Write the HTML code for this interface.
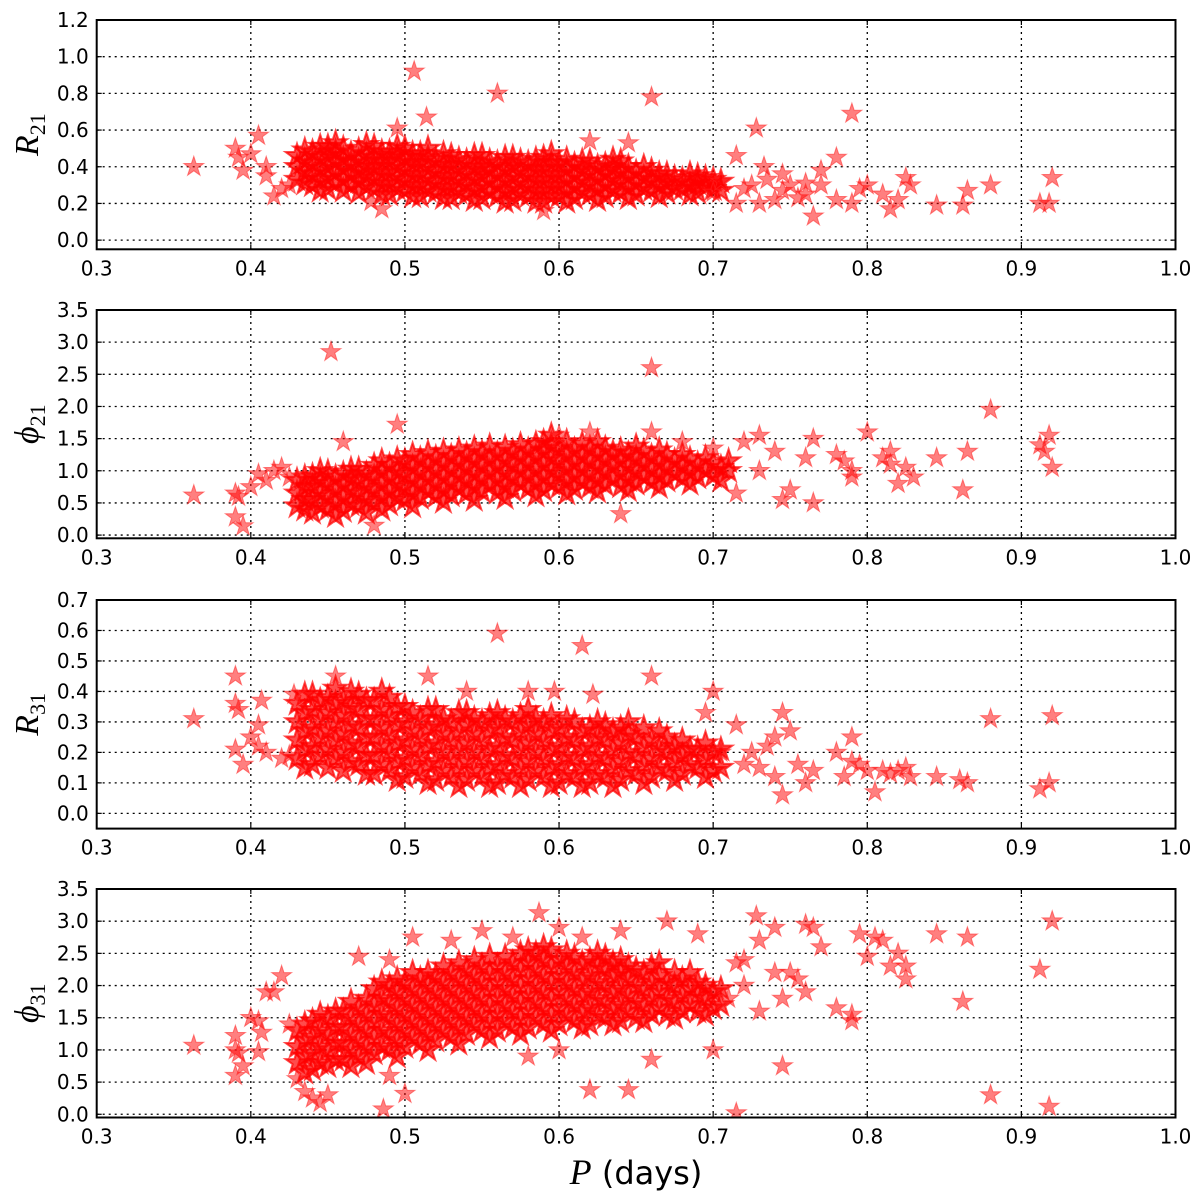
<!DOCTYPE html>
<html><head><meta charset="utf-8"><style>
html,body{margin:0;padding:0;background:#fff;}
svg{display:block;}
</style></head><body>
<svg id="chart" width="1200" height="1200" xmlns="http://www.w3.org/2000/svg"></svg>
<script>
// ---- data: x ticks ----
const xTicks = [0.3,0.4,0.5,0.6,0.7,0.8,0.9,1.0];
const xTickLabels = ["0.3","0.4","0.5","0.6","0.7","0.8","0.9","1.0"];
// ---- panel 1: R21 ----
const r21Ticks = [0.0,0.2,0.4,0.6,0.8,1.0,1.2];
const r21Core = [
[0.43,[0.33,0.40,0.46]],[0.44,[0.30,0.36,0.42,0.48]],[0.45,[0.28,0.34,0.40,0.46,0.51]],
[0.46,[0.27,0.33,0.39,0.44,0.50]],[0.47,[0.26,0.32,0.37,0.43,0.49]],[0.48,[0.28,0.34,0.40,0.45,0.51]],
[0.49,[0.25,0.31,0.37,0.43,0.48]],[0.50,[0.27,0.33,0.39,0.45,0.50]],[0.51,[0.24,0.30,0.36,0.42,0.47]],
[0.52,[0.26,0.32,0.38,0.44]],[0.53,[0.23,0.29,0.35,0.41,0.46]],[0.54,[0.25,0.31,0.37,0.43]],
[0.55,[0.23,0.29,0.35,0.40,0.46]],[0.56,[0.24,0.30,0.36,0.42]],[0.57,[0.22,0.28,0.34,0.40,0.45]],
[0.58,[0.24,0.30,0.36,0.42]],[0.59,[0.21,0.27,0.33,0.39,0.45]],[0.60,[0.24,0.30,0.36,0.42]],
[0.61,[0.23,0.29,0.35,0.41]],[0.62,[0.25,0.31,0.37,0.43]],[0.63,[0.24,0.30,0.36,0.41]],
[0.64,[0.26,0.32,0.38,0.43]],[0.65,[0.25,0.31,0.37]],[0.66,[0.27,0.33,0.38]],
[0.67,[0.26,0.31,0.36]],[0.68,[0.28,0.33]],[0.69,[0.26,0.31,0.35]],[0.70,[0.28,0.33]]];
const r21CoreB = [
[0.435,[0.31,0.37,0.43,0.49]],[0.445,[0.27,0.33,0.39,0.45,0.51]],[0.455,[0.31,0.37,0.43,0.48,0.53]],
[0.465,[0.30,0.36,0.42,0.47]],[0.475,[0.29,0.35,0.40,0.46,0.52]],[0.485,[0.25,0.31,0.37,0.43,0.48]],
[0.495,[0.28,0.34,0.40,0.46,0.51]],[0.505,[0.24,0.30,0.36,0.42,0.47]],[0.515,[0.27,0.33,0.39,0.45,0.50]],
[0.525,[0.23,0.29,0.35,0.41,0.47]],[0.535,[0.26,0.32,0.38,0.44]],[0.545,[0.22,0.28,0.34,0.40,0.46]],
[0.555,[0.26,0.32,0.38,0.43]],[0.565,[0.21,0.27,0.33,0.39,0.45]],[0.575,[0.25,0.31,0.37,0.43]],
[0.585,[0.21,0.27,0.33,0.39,0.44]],[0.595,[0.24,0.30,0.36,0.42,0.47]],[0.605,[0.21,0.27,0.33,0.39,0.44]],
[0.615,[0.26,0.32,0.38,0.43]],[0.625,[0.22,0.28,0.34,0.40]],[0.635,[0.27,0.33,0.39,0.44]],
[0.645,[0.23,0.29,0.35,0.40]],[0.655,[0.28,0.34,0.40]],[0.665,[0.24,0.30,0.36]],
[0.675,[0.28,0.34]],[0.685,[0.25,0.30,0.36]],[0.695,[0.29,0.34]],[0.705,[0.27,0.32]]];
const r21X = [0.363,0.39,0.392,0.395,0.40,0.405,0.41,0.415,0.42,0.425,0.41,0.506,0.56,0.66,0.514,0.495,0.728,0.79,0.485,0.478,0.59,0.62,0.645,0.715,0.733,0.745,0.78,0.77,0.765,0.745,0.76,0.75,0.73,0.715,0.74,0.755,0.79,0.80,0.795,0.81,0.815,0.82,0.825,0.828,0.845,0.862,0.865,0.88,0.912,0.918,0.92,0.72,0.70,0.705,0.725,0.735,0.76,0.77,0.78];
const r21Y = [0.40,0.50,0.45,0.38,0.47,0.57,0.40,0.24,0.28,0.30,0.35,0.92,0.80,0.78,0.67,0.61,0.61,0.69,0.17,0.21,0.16,0.54,0.53,0.46,0.40,0.36,0.45,0.38,0.13,0.27,0.31,0.30,0.20,0.20,0.22,0.23,0.20,0.30,0.28,0.25,0.17,0.22,0.34,0.30,0.19,0.19,0.27,0.30,0.20,0.20,0.34,0.28,0.26,0.32,0.30,0.33,0.25,0.30,0.22];
// ---- panel 2: phi21 ----
const p21Ticks = [0.0,0.5,1.0,1.5,2.0,2.5,3.0,3.5];
const p21Core = [
[0.43,[0.45,0.65,0.85]],[0.44,[0.35,0.55,0.75,0.92]],[0.45,[0.40,0.60,0.80,0.98]],
[0.46,[0.38,0.58,0.78,0.95]],[0.47,[0.45,0.65,0.85,1.02]],[0.48,[0.50,0.70,0.90,1.08]],
[0.49,[0.48,0.68,0.88,1.08]],[0.50,[0.55,0.75,0.95,1.15]],[0.51,[0.58,0.78,0.98,1.18]],
[0.52,[0.60,0.80,1.00,1.20]],[0.53,[0.62,0.82,1.02,1.22]],[0.54,[0.65,0.85,1.05,1.25]],
[0.55,[0.68,0.88,1.08,1.28]],[0.56,[0.66,0.86,1.06,1.26]],[0.57,[0.70,0.90,1.10,1.30]],
[0.58,[0.72,0.92,1.12,1.32]],[0.59,[0.70,0.90,1.10,1.30,1.45]],[0.60,[0.75,0.95,1.15,1.35]],
[0.61,[0.72,0.92,1.12,1.32]],[0.62,[0.75,0.95,1.15,1.35]],[0.63,[0.78,0.98,1.18,1.35]],
[0.64,[0.76,0.96,1.16,1.32]],[0.65,[0.80,1.00,1.20,1.38]],[0.66,[0.82,1.02,1.22]],
[0.67,[0.85,1.05,1.25]],[0.68,[0.88,1.08,1.25]],[0.69,[0.90,1.10]],[0.70,[0.92,1.12]],[0.71,[1.0,1.15]]];
const p21CoreB = [
[0.435,[0.40,0.55,0.75,0.90]],[0.445,[0.45,0.65,0.85,1.0]],[0.455,[0.30,0.50,0.70,0.90]],
[0.465,[0.48,0.68,0.88,1.02]],[0.475,[0.35,0.55,0.75,0.95]],[0.485,[0.40,0.60,0.80,1.00,1.15]],
[0.495,[0.58,0.78,0.98,1.18]],[0.505,[0.45,0.65,0.85,1.05,1.25]],[0.515,[0.68,0.88,1.08,1.28]],
[0.525,[0.52,0.70,0.90,1.10,1.30]],[0.535,[0.72,0.92,1.12,1.32]],[0.545,[0.55,0.75,0.95,1.15,1.35]],
[0.555,[0.78,0.98,1.18,1.38]],[0.565,[0.58,0.76,0.96,1.16,1.36]],[0.575,[0.80,1.00,1.20,1.40]],
[0.585,[0.62,0.82,1.02,1.22,1.42]],[0.595,[0.80,1.00,1.20,1.40,1.55]],[0.605,[0.65,0.85,1.05,1.25,1.45]],
[0.615,[0.82,1.02,1.22,1.42]],[0.625,[0.68,0.85,1.05,1.25,1.45]],[0.635,[0.88,1.08,1.28]],
[0.645,[0.70,0.86,1.06,1.26]],[0.655,[0.90,1.10,1.30]],[0.665,[0.75,0.92,1.12,1.32]],
[0.675,[0.95,1.15]],[0.685,[0.80,0.98,1.18]],[0.695,[1.00,1.20]],[0.705,[0.85,1.05]]];
const p21X = [0.363,0.39,0.392,0.39,0.395,0.40,0.405,0.41,0.415,0.42,0.425,0.452,0.66,0.88,0.495,0.46,0.48,0.64,0.715,0.72,0.73,0.74,0.745,0.75,0.765,0.765,0.73,0.76,0.78,0.785,0.79,0.79,0.80,0.81,0.815,0.82,0.825,0.815,0.83,0.845,0.862,0.865,0.912,0.918,0.92,0.915,0.66,0.68,0.70,0.62,0.60];
const p21Y = [0.62,0.65,0.60,0.28,0.14,0.75,0.95,0.85,1.0,1.05,0.9,2.85,2.6,1.95,1.72,1.45,0.15,0.33,0.65,1.45,1.55,1.3,0.55,0.70,0.50,1.50,1.0,1.2,1.25,1.15,1.0,0.9,1.6,1.2,1.1,0.80,1.05,1.3,0.9,1.2,0.7,1.3,1.4,1.55,1.05,1.3,1.6,1.45,1.35,1.6,1.55];
// ---- panel 3: R31 ----
const r31Ticks = [0.0,0.1,0.2,0.3,0.4,0.5,0.6,0.7];
const r31Core = [
[0.43,[0.18,0.24,0.30,0.36]],[0.44,[0.16,0.22,0.28,0.34,0.39]],[0.45,[0.15,0.21,0.27,0.33,0.38]],
[0.46,[0.14,0.20,0.26,0.32,0.37]],[0.47,[0.16,0.22,0.28,0.34,0.39]],[0.48,[0.13,0.19,0.25,0.31,0.37]],
[0.49,[0.14,0.20,0.26,0.32,0.38]],[0.50,[0.12,0.18,0.24,0.30,0.35]],[0.51,[0.13,0.19,0.25,0.31]],
[0.52,[0.11,0.17,0.23,0.29,0.34]],[0.53,[0.12,0.18,0.24,0.30]],[0.54,[0.11,0.17,0.23,0.29,0.33]],
[0.55,[0.12,0.18,0.24,0.30]],[0.56,[0.10,0.16,0.22,0.28,0.33]],[0.57,[0.12,0.18,0.24,0.30]],
[0.58,[0.11,0.17,0.23,0.29,0.34]],[0.59,[0.12,0.18,0.24,0.30]],[0.60,[0.10,0.16,0.22,0.28]],
[0.61,[0.12,0.18,0.24,0.30]],[0.62,[0.10,0.16,0.22,0.28]],[0.63,[0.12,0.18,0.24,0.29]],
[0.64,[0.11,0.17,0.23,0.28]],[0.65,[0.13,0.19,0.25]],[0.66,[0.12,0.18,0.24]],
[0.67,[0.14,0.20,0.25]],[0.68,[0.13,0.19,0.24]],[0.69,[0.15,0.21]],[0.70,[0.14,0.20]]];
const r31CoreB = [
[0.435,[0.15,0.21,0.27,0.33,0.39]],[0.445,[0.19,0.25,0.31,0.37]],[0.455,[0.18,0.24,0.30,0.36,0.41]],
[0.465,[0.17,0.23,0.29,0.35,0.40]],[0.475,[0.13,0.19,0.25,0.31,0.37]],[0.485,[0.16,0.22,0.28,0.34,0.40]],
[0.495,[0.11,0.17,0.23,0.29,0.35]],[0.505,[0.15,0.21,0.27,0.33]],[0.515,[0.10,0.16,0.22,0.28,0.34]],
[0.525,[0.14,0.20,0.26,0.31]],[0.535,[0.09,0.15,0.21,0.27,0.33]],[0.545,[0.14,0.20,0.26,0.31]],
[0.555,[0.09,0.15,0.21,0.27,0.32]],[0.565,[0.13,0.19,0.25,0.31]],[0.575,[0.09,0.15,0.21,0.27,0.32]],
[0.585,[0.14,0.20,0.26,0.31]],[0.595,[0.09,0.15,0.21,0.27,0.32]],[0.605,[0.13,0.19,0.25,0.31]],
[0.615,[0.09,0.15,0.21,0.27]],[0.625,[0.13,0.19,0.25,0.30]],[0.635,[0.09,0.15,0.21,0.27]],
[0.645,[0.14,0.20,0.26,0.30]],[0.655,[0.10,0.16,0.22,0.28]],[0.665,[0.15,0.21,0.27]],
[0.675,[0.11,0.17,0.22]],[0.685,[0.16,0.21]],[0.695,[0.12,0.18,0.23]],[0.705,[0.15,0.21]]];
const r31X = [0.363,0.39,0.39,0.392,0.39,0.395,0.40,0.405,0.407,0.41,0.405,0.42,0.425,0.428,0.56,0.615,0.66,0.622,0.58,0.597,0.54,0.515,0.455,0.7,0.695,0.715,0.725,0.73,0.74,0.745,0.74,0.75,0.745,0.76,0.765,0.755,0.78,0.785,0.79,0.79,0.795,0.80,0.805,0.81,0.815,0.82,0.825,0.828,0.845,0.86,0.865,0.88,0.912,0.918,0.92,0.72,0.705,0.735];
const r31Y = [0.31,0.45,0.36,0.34,0.21,0.16,0.25,0.29,0.37,0.20,0.22,0.18,0.19,0.39,0.59,0.55,0.45,0.39,0.40,0.40,0.40,0.45,0.45,0.40,0.33,0.29,0.20,0.15,0.12,0.33,0.25,0.27,0.06,0.10,0.14,0.16,0.20,0.12,0.25,0.17,0.16,0.14,0.07,0.14,0.13,0.14,0.15,0.12,0.12,0.11,0.10,0.31,0.08,0.10,0.32,0.16,0.20,0.22];
// ---- panel 4: phi31 ----
const p31Ticks = [0.0,0.5,1.0,1.5,2.0,2.5,3.0,3.5];
const p31Core = [
[0.43,[0.8,1.05,1.3]],[0.44,[0.7,0.95,1.2,1.45]],[0.45,[0.75,1.0,1.25,1.5]],[0.46,[0.85,1.1,1.35,1.6]],
[0.47,[0.9,1.15,1.4,1.65]],[0.48,[0.95,1.2,1.45,1.7,1.95]],[0.49,[1.0,1.25,1.5,1.75,2.0]],
[0.50,[1.05,1.3,1.55,1.8,2.05]],[0.51,[1.1,1.35,1.6,1.85,2.1]],[0.52,[1.15,1.4,1.65,1.9,2.15]],
[0.53,[1.2,1.45,1.7,1.95,2.2]],[0.54,[1.25,1.5,1.75,2.0,2.25]],[0.55,[1.3,1.55,1.8,2.05,2.3]],
[0.56,[1.3,1.55,1.8,2.05,2.3]],[0.57,[1.35,1.6,1.85,2.1,2.35]],[0.58,[1.35,1.6,1.85,2.1,2.35,2.55]],
[0.59,[1.4,1.65,1.9,2.15,2.4,2.6]],[0.60,[1.4,1.65,1.9,2.15,2.4]],[0.61,[1.45,1.7,1.95,2.2,2.45]],
[0.62,[1.4,1.65,1.9,2.15,2.4]],[0.63,[1.5,1.75,2.0,2.25,2.45]],[0.64,[1.45,1.7,1.95,2.2,2.4]],
[0.65,[1.5,1.75,2.0,2.25]],[0.66,[1.55,1.8,2.05,2.3]],[0.67,[1.55,1.8,2.05]],[0.68,[1.6,1.85,2.1]],
[0.69,[1.6,1.85,2.05]],[0.70,[1.65,1.9]]];
const p31CoreB = [
[0.435,[0.65,0.9,1.15,1.4]],[0.445,[0.8,1.05,1.3,1.55]],[0.455,[0.85,1.1,1.35,1.6]],
[0.465,[0.75,1.0,1.25,1.5,1.75]],[0.475,[0.8,1.05,1.3,1.55,1.8]],[0.485,[1.05,1.3,1.55,1.8,2.05]],
[0.495,[0.9,1.15,1.4,1.65,1.9,2.1]],[0.505,[1.2,1.45,1.7,1.95,2.2]],[0.515,[1.0,1.25,1.5,1.75,2.0,2.2]],
[0.525,[1.3,1.55,1.8,2.05,2.3]],[0.535,[1.1,1.35,1.6,1.85,2.1,2.35]],[0.545,[1.4,1.65,1.9,2.15,2.4]],
[0.555,[1.2,1.45,1.7,1.95,2.2,2.45]],[0.565,[1.45,1.7,1.95,2.2,2.45]],[0.575,[1.25,1.5,1.75,2.0,2.25,2.5]],
[0.585,[1.5,1.75,2.0,2.25,2.5]],[0.595,[1.3,1.55,1.8,2.05,2.3,2.55]],[0.605,[1.55,1.8,2.05,2.3,2.5]],
[0.615,[1.35,1.6,1.85,2.1,2.35]],[0.625,[1.55,1.8,2.05,2.3,2.5]],[0.635,[1.4,1.65,1.9,2.15,2.35]],
[0.645,[1.6,1.85,2.1,2.3]],[0.655,[1.45,1.7,1.95,2.2]],[0.665,[1.65,1.9,2.15,2.35]],
[0.675,[1.5,1.75,2.0,2.2]],[0.685,[1.7,1.95,2.2]],[0.695,[1.55,1.8,2.0]],[0.705,[1.7,1.95]]];
const p31X = [0.363,0.39,0.39,0.392,0.39,0.395,0.40,0.405,0.407,0.405,0.41,0.415,0.42,0.425,0.43,0.435,0.44,0.445,0.45,0.486,0.5,0.49,0.47,0.49,0.505,0.53,0.55,0.57,0.587,0.6,0.615,0.64,0.67,0.69,0.62,0.645,0.58,0.6,0.66,0.7,0.715,0.715,0.72,0.728,0.73,0.74,0.745,0.75,0.755,0.76,0.765,0.77,0.745,0.76,0.78,0.79,0.79,0.795,0.80,0.805,0.81,0.815,0.82,0.825,0.825,0.845,0.862,0.865,0.88,0.912,0.918,0.92,0.72,0.73,0.74,0.71];
const p31Y = [1.07,1.22,1.0,0.95,0.60,0.75,1.5,1.45,1.27,0.97,1.9,1.9,2.15,1.4,0.55,0.35,0.25,0.18,0.30,0.08,0.32,0.60,2.45,2.4,2.75,2.7,2.85,2.75,3.13,2.9,2.75,2.85,3.0,2.8,0.38,0.38,0.9,1.0,0.85,1.0,0.02,2.35,2.4,3.08,2.7,2.9,0.75,2.2,2.1,2.95,2.9,2.6,1.8,1.9,1.65,1.55,1.45,2.8,2.45,2.75,2.7,2.3,2.5,2.3,2.1,2.8,1.75,2.75,0.30,2.25,0.12,3.0,2.0,1.6,2.2,1.8];

const NS = "http://www.w3.org/2000/svg";
const svg = document.getElementById('chart');
const X0 = 96.7, X1 = 1175.5, XMIN = 0.3, XMAX = 1.0;
function xs(v){ return X0 + (v - XMIN) / (XMAX - XMIN) * (X1 - X0); }
function mk(tag, attrs){ const e = document.createElementNS(NS, tag); for (const k in attrs) e.setAttribute(k, attrs[k]); return e; }
function starPath(cx, cy, R){
  const r = R * 0.382; let d = "";
  for (let i = 0; i < 10; i++){
    const a = -Math.PI/2 + i * Math.PI/5; const rr = (i % 2 === 0) ? R : r;
    d += (i === 0 ? "M" : "L") + (cx + rr*Math.cos(a)).toFixed(1) + "," + (cy + rr*Math.sin(a)).toFixed(1);
  }
  return d + "Z";
}
const SANS = '"DejaVu Sans","Liberation Sans",sans-serif';
const SERIF = '"Liberation Serif","DejaVu Serif",serif';
const panels = [
  {key:"r21", top:20, bottom:249.3, ymin:-0.05, ymax:1.2, ticks:r21Ticks, core:r21Core, coreB:r21CoreB, xs:r21X, ys:r21Y, label:"R", sub:"21"},
  {key:"phi21", top:310, bottom:538.3, ymin:-0.05, ymax:3.5, ticks:p21Ticks, core:p21Core, coreB:p21CoreB, xs:p21X, ys:p21Y, label:"ϕ", sub:"21"},
  {key:"r31", top:600, bottom:828.6, ymin:-0.05, ymax:0.7, ticks:r31Ticks, core:r31Core, coreB:r31CoreB, xs:r31X, ys:r31Y, label:"R", sub:"31"},
  {key:"phi31", top:889, bottom:1117.5, ymin:-0.05, ymax:3.5, ticks:p31Ticks, core:p31Core, coreB:p31CoreB, xs:p31X, ys:p31Y, label:"ϕ", sub:"31"}
];
panels.forEach(p => {
  const ys = v => p.bottom - (v - p.ymin) / (p.ymax - p.ymin) * (p.bottom - p.top);
  const g = mk('g', {});
  
  
  svg.appendChild(g);
  const clipId = 'clip-' + p.key;
  const cp = mk('clipPath', {id: clipId});
  cp.appendChild(mk('rect', {x: X0, y: p.top, width: X1 - X0, height: p.bottom - p.top}));
  g.appendChild(cp);
  const grid = mk('g', {stroke:'#000', 'stroke-width':1.3, 'stroke-dasharray':'2,4'});
  
  
  g.appendChild(grid);
  xTicks.forEach(t => { const x = xs(t); grid.appendChild(mk('line', {x1:x, x2:x, y1:p.top, y2:p.bottom})); });
  p.ticks.forEach(t => { const y = ys(t); grid.appendChild(mk('line', {x1:X0, x2:X1, y1:y, y2:y})); });
  const pts = mk('g', {'clip-path':'url(#' + clipId + ')'});
  
  
  g.appendChild(pts);
  const drawStar = (xv, yv, dense) => {
    const s = mk('path', {d: starPath(xs(xv), ys(yv), dense ? 12 : 10.5),
      fill: dense ? 'rgba(255,0,0,0.7)' : 'rgba(255,0,0,0.5)',
      stroke: dense ? 'rgba(255,0,0,0.7)' : 'rgba(255,40,40,0.55)', 'stroke-width': dense ? 2 : 1});
    
    
    pts.appendChild(s);
  };
  p.core.forEach(c => c[1].forEach(yv => drawStar(c[0], yv, true)));
  p.coreB.forEach(c => c[1].forEach(yv => drawStar(c[0], yv, true)));
  for (let i = 0; i < p.xs.length; i++) drawStar(p.xs[i], p.ys[i], false);
  const fr = mk('rect', {x:X0, y:p.top, width:X1 - X0, height:p.bottom - p.top, fill:'none', stroke:'#000', 'stroke-width':2});
  
  
  g.appendChild(fr);
  xTicks.forEach((t, i) => {
    const x = xs(t);
    g.appendChild(mk('line', {x1:x, x2:x, y1:p.bottom, y2:p.bottom - 5, stroke:'#000', 'stroke-width':1.2}));
    g.appendChild(mk('line', {x1:x, x2:x, y1:p.top, y2:p.top + 5, stroke:'#000', 'stroke-width':1.2}));
    const tl = mk('text', {x:x, y:p.bottom + 26, 'font-size':20, 'text-anchor':'middle', fill:'#000', 'font-family':SANS});
    tl.textContent = xTickLabels[i];
    
    
    g.appendChild(tl);
  });
  p.ticks.forEach(t => {
    const y = ys(t);
    g.appendChild(mk('line', {x1:X0, x2:X0 + 5, y1:y, y2:y, stroke:'#000', 'stroke-width':1.2}));
    g.appendChild(mk('line', {x1:X1, x2:X1 - 5, y1:y, y2:y, stroke:'#000', 'stroke-width':1.2}));
    const tl = mk('text', {x:X0 - 8, y:y + 7, 'font-size':20, 'text-anchor':'end', fill:'#000', 'font-family':SANS});
    tl.textContent = t.toFixed(1);
    
    
    g.appendChild(tl);
  });
  const cy = (p.top + p.bottom) / 2;
  const yl = mk('text', {transform:'translate(38,' + cy + ') rotate(-90)', 'text-anchor':'middle', fill:'#000', 'font-size':34, 'font-family':SERIF, 'font-style':'italic'});
  
  
  const m = mk('tspan', {}); m.textContent = p.label; yl.appendChild(m);
  const sb = mk('tspan', {'font-size':22, 'font-style':'normal', dy:7}); sb.textContent = p.sub; yl.appendChild(sb);
  g.appendChild(yl);
});
const xl = mk('text', {x:636, y:1184, 'text-anchor':'middle', 'font-size':32, fill:'#000', 'font-family':SANS});


const xp = mk('tspan', {'font-family':SERIF, 'font-style':'italic', 'font-size':36}); xp.textContent = 'P'; xl.appendChild(xp);
const xd = mk('tspan', {}); xd.textContent = ' (days)'; xl.appendChild(xd);
svg.appendChild(xl);
</script>
</body></html>
